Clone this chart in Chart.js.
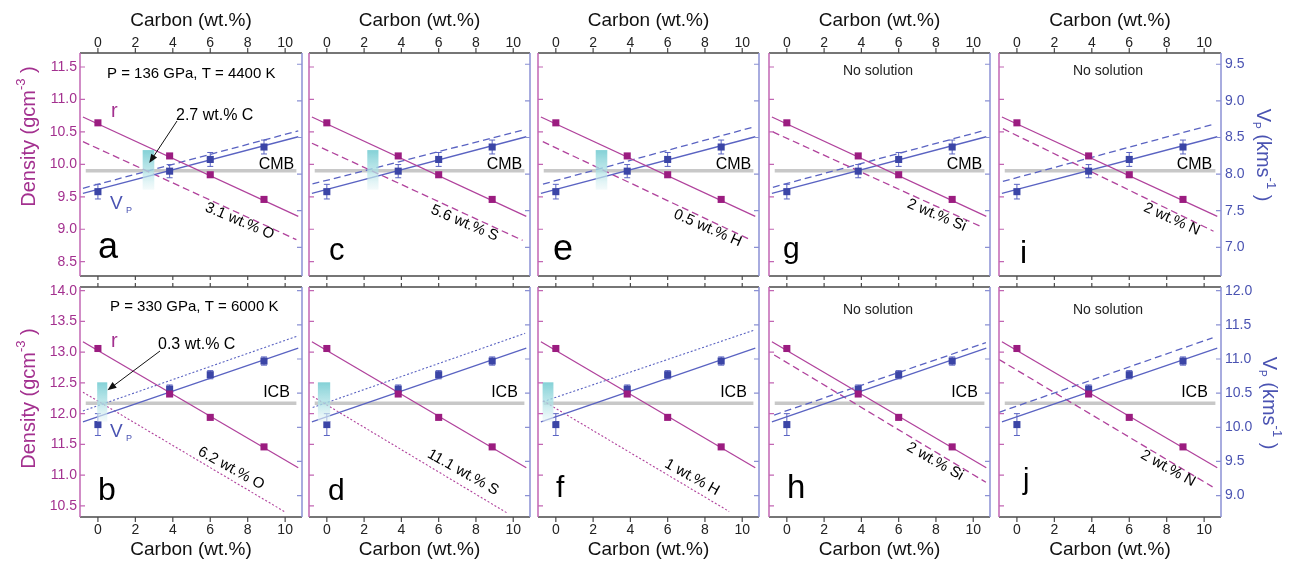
<!DOCTYPE html>
<html><head><meta charset="utf-8">
<script src="https://cdn.jsdelivr.net/npm/chart.js@4.4.0/dist/chart.umd.min.js"></script>
<style>
html,body{margin:0;padding:0;background:#fff;width:1289px;height:564px;overflow:hidden;position:relative;}
canvas{position:absolute;display:block;}
</style></head><body>
<script>
// ---------- DATA ----------
const carbonTicks = [0, 2, 4, 6, 8, 10];
const densTicksCMB = [8.5, 9.0, 9.5, 10.0, 10.5, 11.0, 11.5];
const vpTicksCMB = [7.0, 7.5, 8.0, 8.5, 9.0, 9.5];
const densTicksICB = [10.5, 11.0, 11.5, 12.0, 12.5, 13.0, 13.5, 14.0];
const vpTicksICB = [9.0, 9.5, 10.0, 10.5, 11.0, 11.5, 12.0];

const carbonPts = [0, 3.83, 6.0, 8.87];
const densCMB = [10.64, 10.13, 9.84, 9.46];
const vpCMB = [7.76, 8.04, 8.20, 8.37];
const vpErrCMB = [0.10, 0.09, 0.095, 0.095];
const densICB = [13.06, 12.32, 11.94, 11.46];
const vpICB = [10.04, 10.56, 10.77, 10.97];
const vpErrICB = [0.16, 0.06, 0.06, 0.06];

const fitCarbon = [-0.8, 10.7];
const densFitCMB = [10.73, 9.20];
const vpFitCMB = [7.735, 8.51];
const densFitICB = [13.17, 11.12];
const vpFitICB = [10.08, 11.16];

const boundaryCarbon = [-0.65, 10.6];
const densCMBLevel = 9.90;
const densICBLevel = 12.17;

const panelIds = ['a','c','e','g','i','b','d','f','h','j'];
const altLabels = ['3.1 wt.% O','5.6 wt.% S','0.5 wt.% H','2 wt.% Si','2 wt.% N',
                   '6.2 wt.% O','11.1 wt.% S','1 wt.% H','2 wt.% Si','2 wt.% N'];
const altDensCarbon = [[-0.8,10.6],[-0.8,10.5],[-0.7,10.5],[-0.75,10.5],[-0.75,10.5],
                       [-0.8,9.95],[-0.76,9.7],[-0.69,9.3],[-0.68,10.68],[-0.95,10.45]];
const altDensValue = [[10.35,8.84],[10.325,8.83],[10.35,8.83],[10.5,9.03],[10.55,8.97],
                      [12.35,10.41],[12.28,10.38],[12.21,10.41],[12.955,10.885],[12.88,10.81]];
const altVpCarbon = [[-0.8,10.7],[-0.77,10.5],[-0.69,10.5],[-0.75,10.5],[-0.75,10.5],
                     [-0.8,10.7],[-0.76,10.64],[-0.69,10.67],[-0.68,10.68],[-0.95,10.45]];
const altVpValue = [[7.806,8.59],[7.865,8.60],[7.863,8.636],[7.82,8.59],[7.90,8.68],
                    [10.24,11.34],[10.29,11.376],[10.375,11.425],[10.18,11.24],[10.22,11.31]];
const solutionCarbon = [[2.39,3.01],[2.17,2.77],[2.14,2.76],null,null,
                        [-0.04,0.5],[-0.48,0.18],[-0.71,-0.13],null,null];
const solutionDensCMB = [9.61, 10.22];
const solutionDensICB = [11.87, 12.51];
const solutionText = ['2.7 wt.% C', null, null, null, null, '0.3 wt.% C', null, null, null, null];
const arrowTip = [[2.74, 10.02], null, null, null, null, [0.51, 12.38], null, null, null, null];

// ---------- STYLE / LAYOUT ----------
const FONT = "'Liberation Sans', Arial, Helvetica, sans-serif";
const PUR_MK = '#9b1c80', PUR_LN = '#b0429c', PUR_TXT = '#a3308f', PUR_AX = '#c266b3';
const BLU_MK = '#3b45a6', BLU_LN = '#5a63c2', BLU_TXT = '#4a53b2', BLU_AX = '#8b91d4';
const GREY = '#c8c8c8', FRAME = '#4a4a4a';
const colLefts = [80, 308, 537, 768, 998];
const PW = 223;
const rowBox = [{top: 53, bottom: 276, ct: 0, cb: 281}, {top: 287, bottom: 517, ct: 281, cb: 564}];
const xRange = [-0.957, 10.9];
const rangesCMB = {dens: [8.28, 11.716], vp: [6.608, 9.654]};
const rangesICB = {dens: [10.32, 14.06], vp: [8.687, 12.054]};

const letterStyle = [
  {x:98,y:258,s:36},{x:329,y:260,s:31},{x:553,y:260,s:36},{x:783,y:258,s:30},{x:1020,y:263,s:32},
  {x:98,y:500,s:32},{x:328,y:500,s:30},{x:556,y:497,s:30},{x:787,y:498,s:33},{x:1023,y:489,s:29}];
const altLabelPos = [[238,220],[463,222],[706,227],[935,214],[1170,218],
                     [229,467],[461,471],[690,476],[933,460],[1166,467]];

function txt(ctx, s, x, y, size, color, align, angle, weight) {
  ctx.save();
  ctx.translate(x, y);
  if (angle) ctx.rotate(angle);
  ctx.font = (weight || '') + ' ' + size + 'px ' + FONT;
  ctx.fillStyle = color;
  ctx.textAlign = align || 'left';
  ctx.textBaseline = 'alphabetic';
  ctx.fillText(s, 0, 0);
  ctx.restore();
}
function segTitle(ctx, segs, x, y, angle, color) {
  ctx.save();
  ctx.translate(x, y);
  ctx.rotate(angle);
  ctx.fillStyle = color;
  ctx.textBaseline = 'alphabetic';
  ctx.textAlign = 'left';
  let W = 0;
  segs.forEach(s => { ctx.font = s[1] + 'px ' + FONT; W += ctx.measureText(s[0]).width; });
  let cx = -W / 2;
  segs.forEach(s => { ctx.font = s[1] + 'px ' + FONT; ctx.fillText(s[0], cx, s[2]); cx += ctx.measureText(s[0]).width; });
  ctx.restore();
}
function zeroPad(s) { s.paddingTop = 0; s.paddingBottom = 0; s.paddingLeft = 0; s.paddingRight = 0; }

function makePanel(idx) {
  const row = idx < 5 ? 0 : 1;
  const col = idx % 5;
  const rb = rowBox[row];
  const fl = colLefts[col], fr = fl + PW;
  const cl = col === 0 ? 0 : fl - 4;
  const cr = col === 4 ? 1289 : fr + 4;
  const ct = rb.ct, cb = rb.cb;
  const canvas = document.createElement('canvas');
  canvas.width = cr - cl; canvas.height = cb - ct;
  canvas.style.left = cl + 'px'; canvas.style.top = ct + 'px';
  canvas.style.width = (cr - cl) + 'px'; canvas.style.height = (cb - ct) + 'px';
  document.body.appendChild(canvas);

  const dens = row ? densICB : densCMB;
  const vp = row ? vpICB : vpCMB;
  const err = row ? vpErrICB : vpErrCMB;
  const densFit = row ? densFitICB : densFitCMB;
  const vpFit = row ? vpFitICB : vpFitCMB;
  const level = row ? densICBLevel : densCMBLevel;
  const rng = row ? rangesICB : rangesCMB;
  const dTicks = row ? densTicksICB : densTicksCMB;
  const vTicks = row ? vpTicksICB : vpTicksCMB;
  const dotted = (idx >= 5 && idx <= 7);
  const altDash = dotted ? [2, 2] : [7, 4];
  const altW = dotted ? 1.1 : 1.3;

  const pts = (xs, ys) => xs.map((x, i) => ({x: x, y: ys[i]}));
  const datasets = [
    {data: pts(carbonPts, dens), yAxisID: 'yL', showLine: false, pointStyle: 'rect', pointRadius: 5,
     backgroundColor: PUR_MK, borderWidth: 0},
    {data: pts(carbonPts, vp), yAxisID: 'yR', showLine: false, pointStyle: 'rect', pointRadius: 5,
     backgroundColor: BLU_MK, borderWidth: 0},
    {data: pts(fitCarbon, densFit), yAxisID: 'yL', showLine: true, pointRadius: 0, borderColor: PUR_LN, borderWidth: 1.3},
    {data: pts(fitCarbon, vpFit), yAxisID: 'yR', showLine: true, pointRadius: 0, borderColor: BLU_LN, borderWidth: 1.3},
    {data: pts(altDensCarbon[idx], altDensValue[idx]), yAxisID: 'yL', showLine: true, pointRadius: 0,
     borderColor: PUR_LN, borderWidth: altW, borderDash: altDash},
    {data: pts(altVpCarbon[idx], altVpValue[idx]), yAxisID: 'yR', showLine: true, pointRadius: 0,
     borderColor: BLU_LN, borderWidth: altW, borderDash: altDash},
    {data: pts(boundaryCarbon, [level, level]), yAxisID: 'yL', showLine: true, pointRadius: 0,
     borderColor: GREY, borderWidth: 3.5}
  ];

  const deco = {
    id: 'deco' + idx,
    beforeDatasetsDraw(chart) {
      const ctx = chart.ctx, x = chart.scales.x, yR = chart.scales.yR;
      ctx.save();
      ctx.strokeStyle = BLU_LN; ctx.lineWidth = 1;
      vp.forEach((v, i) => {
        const px = x.getPixelForValue(carbonPts[i]);
        const y1 = yR.getPixelForValue(v - err[i]), y2 = yR.getPixelForValue(v + err[i]);
        ctx.beginPath();
        ctx.moveTo(px, y1); ctx.lineTo(px, y2);
        ctx.moveTo(px - 3, y1); ctx.lineTo(px + 3, y1);
        ctx.moveTo(px - 3, y2); ctx.lineTo(px + 3, y2);
        ctx.stroke();
      });
      ctx.restore();
    },
    afterDatasetsDraw(chart) {
      const ctx = chart.ctx, x = chart.scales.x, yL = chart.scales.yL, yR = chart.scales.yR;
      const A = chart.chartArea;
      if (solutionCarbon[idx]) {
        const sd = row ? solutionDensICB : solutionDensCMB;
        const x1 = x.getPixelForValue(solutionCarbon[idx][0]), x2 = x.getPixelForValue(solutionCarbon[idx][1]);
        const yTop = yL.getPixelForValue(sd[1]), yBot = yL.getPixelForValue(sd[0]);
        const g = ctx.createLinearGradient(0, yTop, 0, yBot);
        g.addColorStop(0, 'rgba(118,204,210,0.9)');
        g.addColorStop(0.55, 'rgba(175,226,230,0.75)');
        g.addColorStop(1, 'rgba(238,248,249,0.6)');
        ctx.fillStyle = g;
        ctx.fillRect(x1, yTop, x2 - x1, yBot - yTop);
      }
      ctx.save();
      ctx.lineWidth = 1.5;
      ctx.strokeStyle = FRAME;
      ctx.beginPath();
      ctx.moveTo(A.left, A.top); ctx.lineTo(A.right, A.top);
      ctx.moveTo(A.left, A.bottom); ctx.lineTo(A.right, A.bottom);
      ctx.stroke();
      ctx.strokeStyle = PUR_AX;
      ctx.beginPath(); ctx.moveTo(A.left, A.top); ctx.lineTo(A.left, A.bottom); ctx.stroke();
      ctx.strokeStyle = BLU_AX;
      ctx.beginPath(); ctx.moveTo(A.right, A.top); ctx.lineTo(A.right, A.bottom); ctx.stroke();
      ctx.lineWidth = 1.2;
      ctx.strokeStyle = FRAME;
      ctx.beginPath();
      carbonTicks.forEach(v => {
        const px = x.getPixelForValue(v);
        if (row === 0) { ctx.moveTo(px, A.top - 5); ctx.lineTo(px, A.top); ctx.moveTo(px, A.bottom); ctx.lineTo(px, A.bottom + 4); }
        else { ctx.moveTo(px, A.bottom); ctx.lineTo(px, A.bottom + 5); ctx.moveTo(px, A.top - 4); ctx.lineTo(px, A.top); }
      });
      ctx.stroke();
      ctx.strokeStyle = PUR_AX;
      ctx.beginPath();
      dTicks.forEach(v => { const py = yL.getPixelForValue(v); ctx.moveTo(A.left, py); ctx.lineTo(A.left + 5, py); });
      ctx.stroke();
      ctx.strokeStyle = BLU_AX;
      ctx.beginPath();
      vTicks.forEach(v => { const py = yR.getPixelForValue(v); ctx.moveTo(A.right, py); ctx.lineTo(A.right - 5, py); });
      ctx.stroke();
      ctx.restore();

      const ax1 = x.getPixelForValue(altDensCarbon[idx][0]), ay1 = yL.getPixelForValue(altDensValue[idx][0]);
      const ax2 = x.getPixelForValue(altDensCarbon[idx][1]), ay2 = yL.getPixelForValue(altDensValue[idx][1]);
      const ang = Math.atan2(ay2 - ay1, ax2 - ax1) - 0.03;

      let tip = null;
      if (arrowTip[idx]) tip = [x.getPixelForValue(arrowTip[idx][0]), yL.getPixelForValue(arrowTip[idx][1])];

      ctx.save();
      ctx.translate(-cl, -ct);
      const L = letterStyle[idx];
      txt(ctx, panelIds[idx], L.x, L.y, L.s, '#000');
      txt(ctx, altLabels[idx], altLabelPos[idx][0], altLabelPos[idx][1] + 5, 15, '#000', 'center', ang);
      txt(ctx, row ? 'ICB' : 'CMB', fl + 196.5, row ? 397 : 169, 16, '#000', 'center');
      if (col >= 3) txt(ctx, 'No solution', fl + 110, row ? 314 : 75, 14, '#222', 'center');
      if (col === 0) {
        txt(ctx, row ? 'P = 330 GPa, T = 6000 K' : 'P = 136 GPa, T = 4400 K', row ? 110 : 107, row ? 311 : 78, 15, '#000');
        txt(ctx, 'r', 111, row ? 347 : 117, 20, PUR_TXT);
        txt(ctx, 'V', 110, row ? 437 : 209, 19, BLU_TXT);
        txt(ctx, 'P', 126, row ? 441 : 213, 9, BLU_TXT);
        txt(ctx, solutionText[idx], row ? 158 : 176, row ? 349 : 120, 16, '#000');
        segTitle(ctx, [['Density (gcm', 20, 0], ['-3', 13, -10], [' )', 20, 0]], 34.5, row ? 398.5 : 136.5, -Math.PI / 2, PUR_TXT);
      }
      if (col === 4) {
        segTitle(ctx, [['V', 20, 0], ['P', 10, 4], [' (kms', 20, 0], ['-1', 13, -10], [' )', 20, 0]],
          row ? 1263 : 1257, row ? 403 : 155, Math.PI / 2, BLU_TXT);
      }
      ctx.restore();

      if (tip) {
        const sx = row ? 160 - cl : 177 - cl, sy = row ? 351 - ct : 121 - ct;
        const a = Math.atan2(tip[1] - sy, tip[0] - sx);
        ctx.save();
        ctx.strokeStyle = '#111'; ctx.fillStyle = '#111'; ctx.lineWidth = 1;
        ctx.beginPath(); ctx.moveTo(sx, sy);
        ctx.lineTo(tip[0] - 7 * Math.cos(a), tip[1] - 7 * Math.sin(a)); ctx.stroke();
        ctx.beginPath();
        ctx.moveTo(tip[0], tip[1]);
        ctx.lineTo(tip[0] - 9 * Math.cos(a) + 3.5 * Math.sin(a), tip[1] - 9 * Math.sin(a) - 3.5 * Math.cos(a));
        ctx.lineTo(tip[0] - 9 * Math.cos(a) - 3.5 * Math.sin(a), tip[1] - 9 * Math.sin(a) + 3.5 * Math.cos(a));
        ctx.closePath(); ctx.fill();
        ctx.restore();
      }
    }
  };

  new Chart(canvas, {
    type: 'scatter',
    data: {datasets: datasets},
    options: {
      responsive: false, animation: false, devicePixelRatio: 1,
      layout: {padding: {top: row ? rb.top - ct : 0, bottom: row ? 0 : cb - rb.bottom, left: 0, right: 0}},
      plugins: {legend: {display: false}, tooltip: {enabled: false}},
      scales: {
        x: {
          type: 'linear', position: row ? 'bottom' : 'top', min: xRange[0], max: xRange[1],
          afterBuildTicks: s => { s.ticks = carbonTicks.map(v => ({value: v})); },
          afterFit: s => { s.height = row ? cb - rb.bottom : rb.top - ct; zeroPad(s); },
          grid: {display: false, drawTicks: false}, border: {display: false},
          ticks: {color: '#222', font: {family: FONT, size: 14}, padding: row ? 5 : 1, maxRotation: 0,
                  callback: v => String(v)},
          title: {display: true, text: 'Carbon (wt.%)', color: '#111', font: {family: FONT, size: 19},
                  padding: row ? {top: 0, bottom: 3} : {top: 9, bottom: 0}}
        },
        yL: {
          type: 'linear', position: 'left', min: rng.dens[0], max: rng.dens[1],
          afterBuildTicks: s => { s.ticks = dTicks.map(v => ({value: v})); },
          afterFit: s => { s.width = fl - cl; zeroPad(s); },
          grid: {display: false, drawTicks: false}, border: {display: false},
          ticks: {display: col === 0, color: PUR_TXT, font: {family: FONT, size: 14}, padding: 3,
                  callback: v => Number(v).toFixed(1)}
        },
        yR: {
          type: 'linear', position: 'right', min: rng.vp[0], max: rng.vp[1],
          afterBuildTicks: s => { s.ticks = vTicks.map(v => ({value: v})); },
          afterFit: s => { s.width = cr - fr; zeroPad(s); },
          grid: {display: false, drawTicks: false}, border: {display: false},
          ticks: {display: col === 4, color: BLU_TXT, font: {family: FONT, size: 14}, padding: 4,
                  callback: v => Number(v).toFixed(1)}
        }
      }
    },
    plugins: [deco]
  });
}

for (let i = 0; i < 10; i++) makePanel(i);
</script>
</body></html>
